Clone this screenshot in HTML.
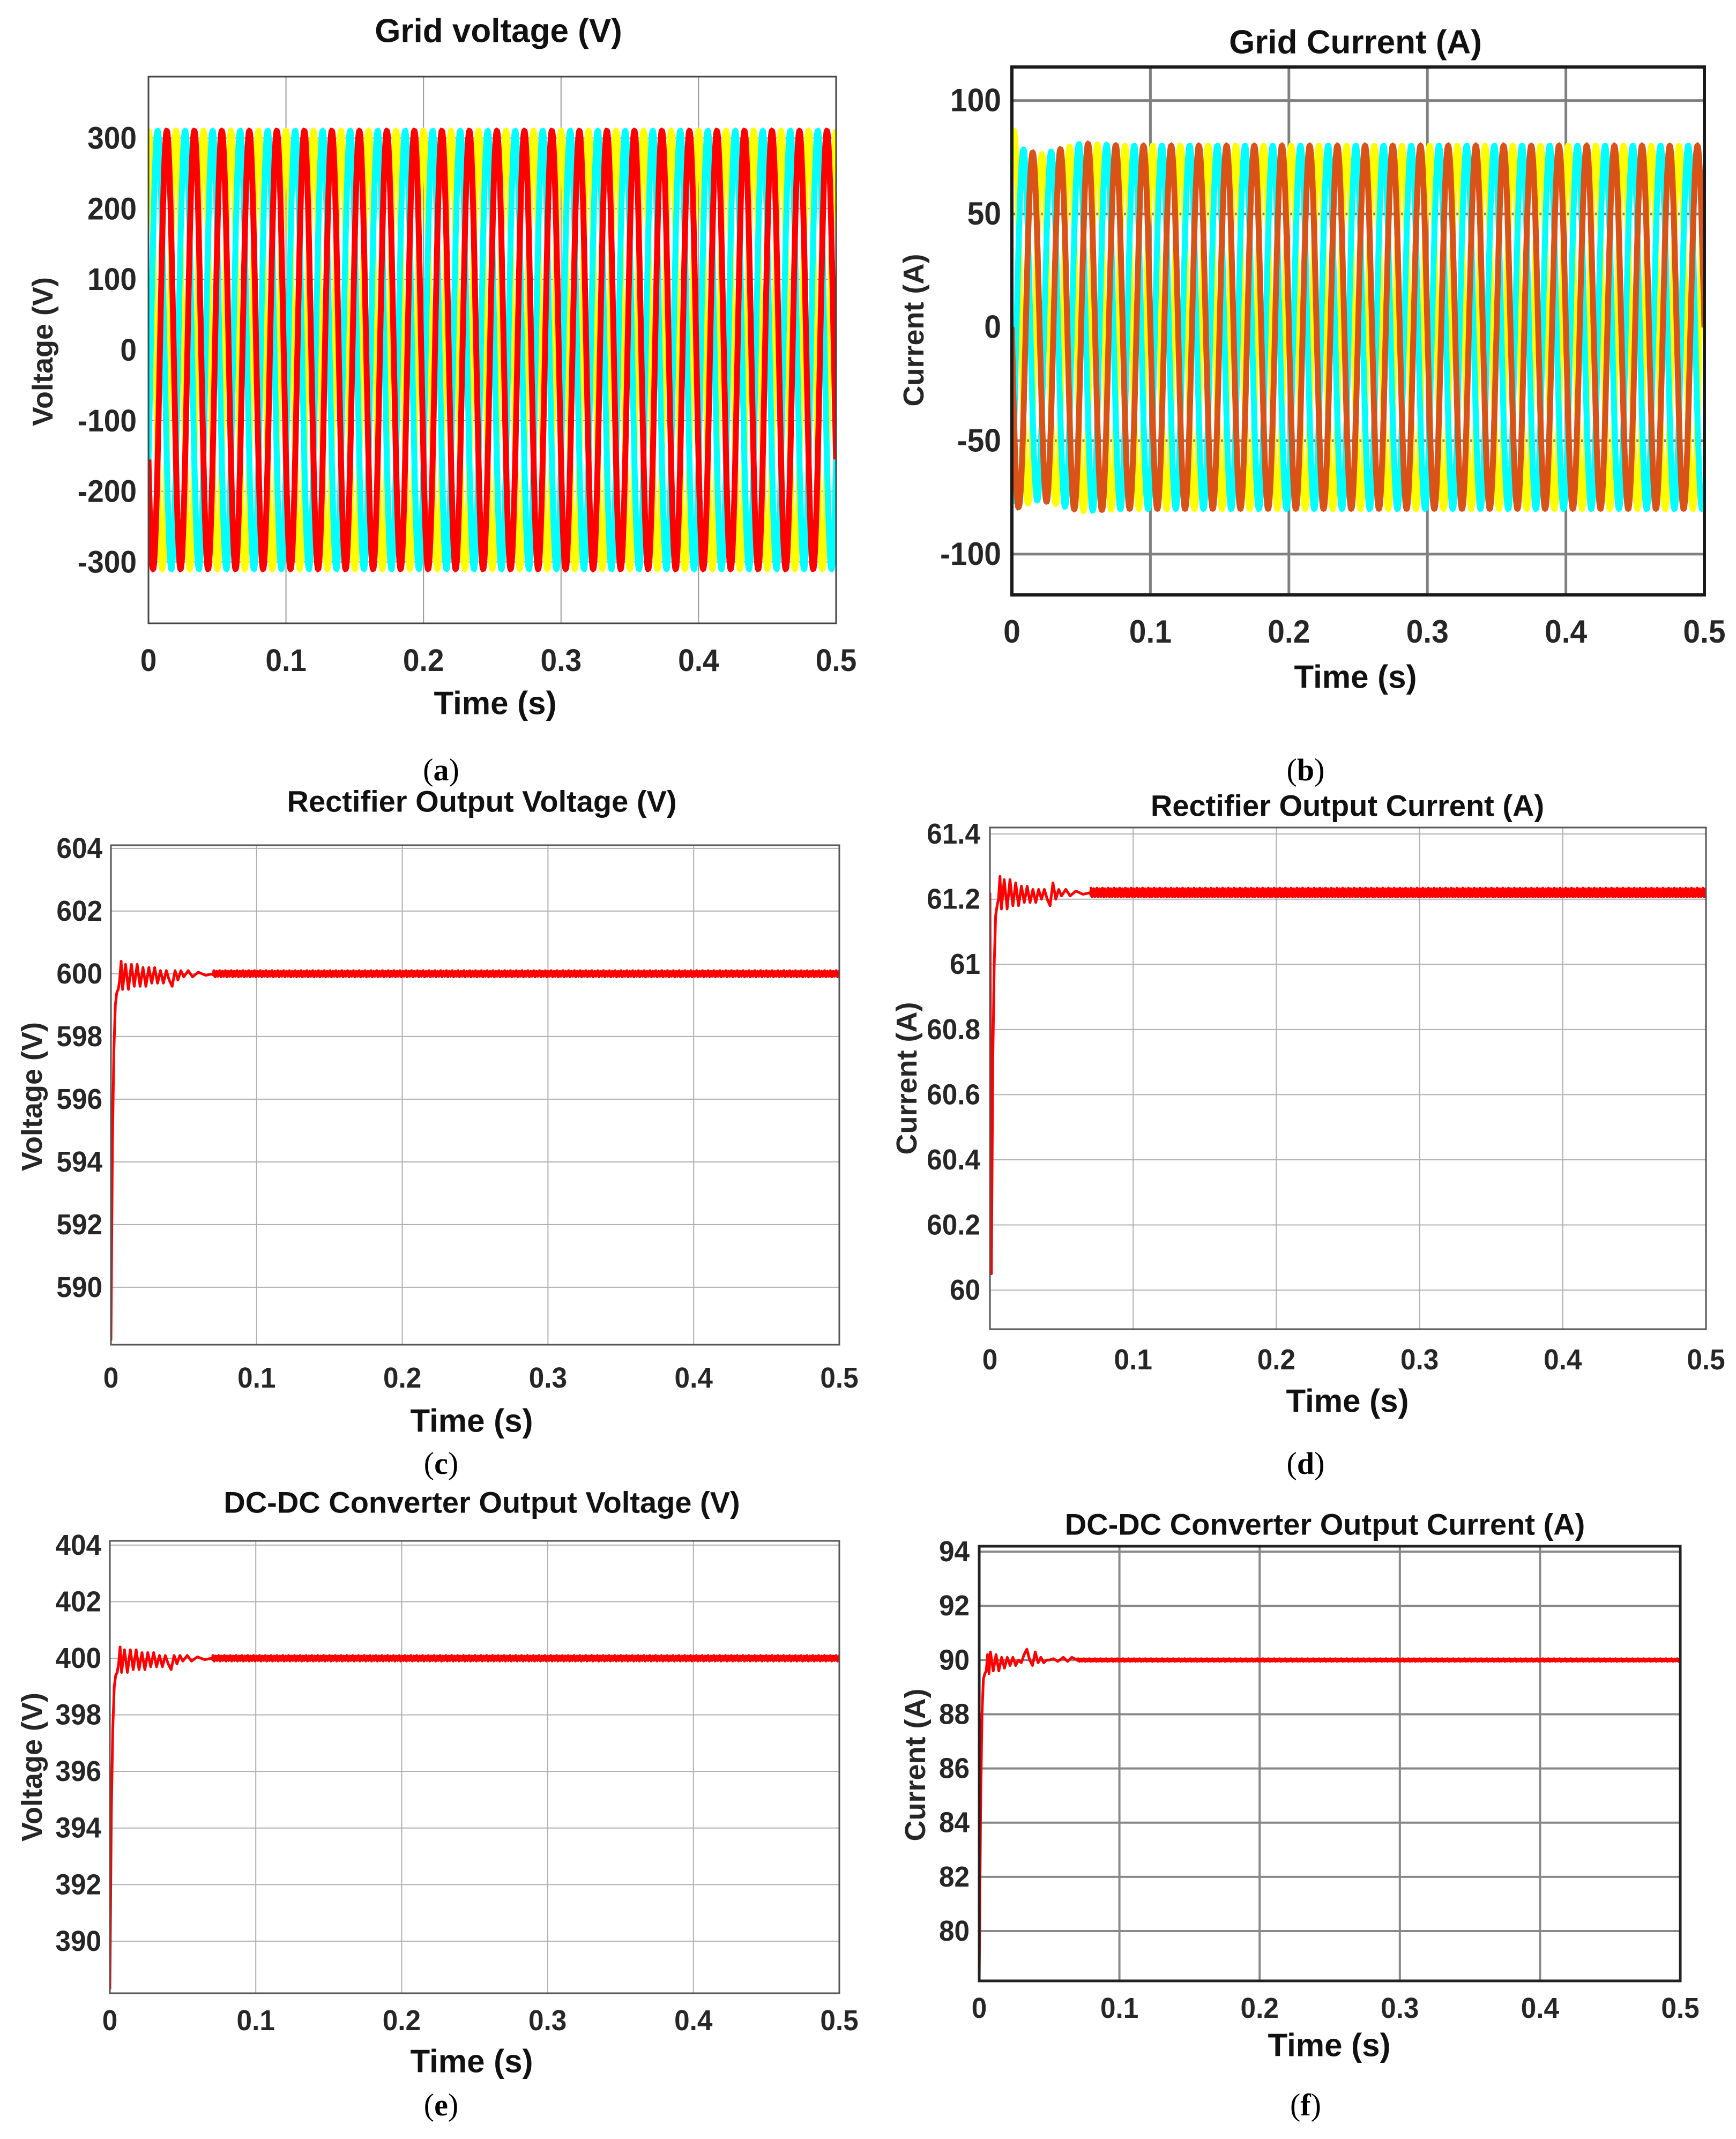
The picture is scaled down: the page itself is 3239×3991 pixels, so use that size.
<!DOCTYPE html>
<html><head><meta charset="utf-8">
<style>
html,body{margin:0;padding:0;background:#fff;}
svg{display:block;}
.tick{font-family:"Liberation Sans",sans-serif;font-weight:bold;fill:#262626;}
.ttl{font-family:"Liberation Sans",sans-serif;font-weight:bold;fill:#111;}
.ylab{font-family:"Liberation Sans",sans-serif;font-weight:bold;fill:#262626;}
.sub{font-family:"Liberation Serif",serif;fill:#000;}
</style></head>
<body>
<svg id="fig" width="3239" height="3991" viewBox="0 0 3239 3991" xmlns="http://www.w3.org/2000/svg"></svg>
<script>
// ---------- data ----------
const timeTicks = [0, 0.1, 0.2, 0.3, 0.4, 0.5];
const timeTickLabels = ["0", "0.1", "0.2", "0.3", "0.4", "0.5"];

// Grid voltage (3-phase, 50 Hz)
const gridVoltTicks = [-300, -200, -100, 0, 100, 200, 300];
const gridVoltPhases = ["yellow", "cyan", "red"];
const gridVoltAmp = [310, 310, 310];
const gridVoltPhaseDeg = [90, -30, 210];
const gridFreqHz = [50];

// Grid current (3-phase, 50 Hz) - amplitude envelope over time
const gridCurTicks = [-100, -50, 0, 50, 100];
const gridCurEnvT = [0, 0.005, 0.02, 0.05, 0.08, 0.5];
const gridCurEnvAmp = [90, 79, 76, 81, 80, 80];
const gridCurPhaseDeg = [60, -60, 180];

// Rectifier output voltage
const recVTicks = [590, 592, 594, 596, 598, 600, 602, 604];
const recVT = [0, 0.001, 0.002, 0.003, 0.004, 0.005, 0.006, 0.007, 0.008, 0.010, 0.012, 0.014, 0.016, 0.018, 0.020, 0.022, 0.024, 0.026, 0.028, 0.030, 0.032, 0.034, 0.036, 0.038, 0.040, 0.042, 0.044, 0.046, 0.048, 0.050, 0.053, 0.056, 0.060, 0.065, 0.070];
const recVV = [588.3, 594.5, 597.5, 599.0, 599.4, 599.5, 599.8, 600.4, 599.5, 600.3, 599.5, 600.3, 599.6, 600.3, 599.6, 600.2, 599.6, 600.2, 599.7, 600.2, 599.7, 600.1, 599.7, 600.1, 599.8, 599.6, 600.1, 599.8, 600.1, 599.9, 600.1, 599.9, 600.05, 599.95, 600];
const recVRipple = [0.06, -0.04, 0.1, -0.06, 0.03, -0.1, 0.05, -0.02, 0.08, -0.05, 0.02, -0.08, 0.07];

// Rectifier output current
const recITicks = [60, 60.2, 60.4, 60.6, 60.8, 61, 61.2, 61.4];
const recIT = [0, 0.001, 0.002, 0.003, 0.004, 0.005, 0.006, 0.007, 0.008, 0.010, 0.012, 0.014, 0.016, 0.018, 0.020, 0.022, 0.024, 0.026, 0.028, 0.030, 0.032, 0.034, 0.036, 0.038, 0.040, 0.042, 0.044, 0.046, 0.048, 0.050, 0.053, 0.056, 0.060, 0.065, 0.070];
const recIV = [61.22, 60.05, 60.7, 61.0, 61.15, 61.18, 61.2, 61.27, 61.17, 61.26, 61.17, 61.26, 61.18, 61.25, 61.18, 61.24, 61.19, 61.24, 61.19, 61.23, 61.19, 61.23, 61.2, 61.23, 61.2, 61.18, 61.25, 61.2, 61.23, 61.21, 61.23, 61.21, 61.225, 61.215, 61.22];
const recIRipple = [0.01, -0.006, 0.014, -0.01, 0.005, -0.013, 0.008, -0.004, 0.012, -0.008, 0.003, -0.012, 0.009];

// DC-DC converter output voltage
const dcVTicks = [390, 392, 394, 396, 398, 400, 402, 404];
const dcVT = [0, 0.001, 0.002, 0.003, 0.004, 0.005, 0.006, 0.007, 0.008, 0.010, 0.012, 0.014, 0.016, 0.018, 0.020, 0.022, 0.024, 0.026, 0.028, 0.030, 0.032, 0.034, 0.036, 0.038, 0.040, 0.042, 0.044, 0.046, 0.048, 0.050, 0.053, 0.056, 0.060, 0.065, 0.070];
const dcVV = [388.3, 394.5, 397.5, 399.0, 399.4, 399.5, 399.8, 400.4, 399.5, 400.3, 399.5, 400.3, 399.6, 400.3, 399.6, 400.2, 399.6, 400.2, 399.7, 400.2, 399.7, 400.1, 399.7, 400.1, 399.8, 399.6, 400.1, 399.8, 400.1, 399.9, 400.1, 399.9, 400.05, 399.95, 400];
const dcVRipple = [0.06, -0.04, 0.1, -0.06, 0.03, -0.1, 0.05, -0.02, 0.08, -0.05, 0.02, -0.08, 0.07];

// DC-DC converter output current
const dcITicks = [80, 82, 84, 86, 88, 90, 92, 94];
const dcIT = [0, 0.001, 0.002, 0.003, 0.004, 0.005, 0.006, 0.007, 0.008, 0.010, 0.012, 0.014, 0.016, 0.018, 0.020, 0.022, 0.024, 0.026, 0.028, 0.030, 0.032, 0.034, 0.036, 0.038, 0.040, 0.042, 0.044, 0.046, 0.048, 0.050, 0.053, 0.056, 0.060, 0.063, 0.066, 0.070];
const dcIV = [78.2, 84.5, 88.0, 89.3, 89.5, 89.6, 90.2, 89.5, 90.3, 89.6, 90.2, 89.6, 90.1, 89.7, 90.1, 89.8, 90.1, 89.8, 90.0, 89.9, 90.2, 90.4, 90.0, 89.8, 90.3, 89.9, 90.1, 89.9, 90.0, 90.0, 90.05, 89.95, 90.1, 89.95, 90.1, 90];
const dcIRipple = [0.04, -0.02, 0.05, -0.03, 0.02, -0.05, 0.03, -0.01, 0.04, -0.03, 0.01, -0.04, 0.03];

// ---------- drawing ----------
const NS = "http://www.w3.org/2000/svg";
const fig = document.getElementById("fig");
function mk(tag, attrs, parent) {
  const e = document.createElementNS(NS, tag);
  for (const k in attrs) e.setAttribute(k, attrs[k]);
  (parent || fig).appendChild(e);
  return e;
}
function txt(s, x, y, cls, size, anchor, parent, sx, rot) {
  const t = mk("text", {x: 0, y: 0, class: cls, "font-size": size, "text-anchor": anchor || "middle", "dominant-baseline": "central"}, parent);
  let tr = "translate(" + x + "," + y + ")";
  if (rot) tr += " rotate(" + rot + ")";
  tr += " scale(" + (sx || 1) + ",1)";
  t.setAttribute("transform", tr);
  t.textContent = s;
  return t;
}

const panels = [
  {id:"grid-voltage", L:277, R:1560, T:143, B:1163, ymin:-387, ymax:387, yt:gridVoltTicks, title:"Grid voltage (V)", tx:930, ty:58, tsz:62, ylab:"Voltage (V)", ylx:80, yly:656, xly:1232, timey:1312, timex:924, grid:"#9a9a9a", gw:2, frame:"#444", fw:3, tsize:58, yoff:22, sub:"a", subx:823, suby:1436},
  {id:"grid-current", L:1888, R:3180, T:125, B:1110, ymin:-118, ymax:114.8, yt:gridCurTicks, title:"Grid Current (A)", tx:2529, ty:79, tsz:62, ylab:"Current (A)", ylx:1705, yly:616, xly:1179, timey:1263, timex:2529, grid:"#808080", gw:5, frame:"#1a1a1a", fw:6, tsize:60, yoff:20, sub:"b", subx:2436, suby:1436},
  {id:"rectifier-voltage", L:207, R:1566, T:1577, B:2509, ymin:588.17, ymax:604.1, yt:recVTicks, title:"Rectifier Output Voltage (V)", tx:899, ty:1495, tsz:56, ylab:"Voltage (V)", ylx:60, yly:2046, xly:2571, timey:2651, timex:880, grid:"#b0b0b0", gw:2, frame:"#555", fw:3, tsize:54, yoff:16, sub:"c", subx:823, suby:2730},
  {id:"rectifier-current", L:1847, R:3183, T:1544, B:2480, ymin:59.88, ymax:61.42, yt:recITicks, title:"Rectifier Output Current (A)", tx:2514, ty:1503, tsz:56, ylab:"Current (A)", ylx:1692, yly:2012, xly:2537, timey:2614, timex:2514, grid:"#b0b0b0", gw:2, frame:"#555", fw:3, tsize:54, yoff:18, sub:"d", subx:2436, suby:2730},
  {id:"dcdc-voltage", L:205, R:1566, T:2875, B:3719, ymin:388.16, ymax:404.15, yt:dcVTicks, title:"DC-DC Converter Output Voltage (V)", tx:899, ty:2803, tsz:56, ylab:"Voltage (V)", ylx:60, yly:3297, xly:3770, timey:3846, timex:880, grid:"#b0b0b0", gw:2, frame:"#555", fw:3, tsize:54, yoff:16, sub:"e", subx:823, suby:3927},
  {id:"dcdc-current", L:1827, R:3135, T:2885, B:3696, ymin:78.16, ymax:94.2, yt:dcITicks, title:"DC-DC Converter Output Current (A)", tx:2472, ty:2844, tsz:56, ylab:"Current (A)", ylx:1708, yly:3293, xly:3747, timey:3816, timex:2480, grid:"#888", gw:4, frame:"#222", fw:5, tsize:54, yoff:18, sub:"f", subx:2436, suby:3927}
];

const TICKSX = 0.95;

function axes(p) {
  const xs = t => p.L + (t / 0.5) * (p.R - p.L);
  const ys = v => p.B - (v - p.ymin) / (p.ymax - p.ymin) * (p.B - p.T);
  return {xs, ys};
}

function drawFrame(p) {
  const g = mk("g", {});
  
  
  const {xs, ys} = axes(p);
  mk("rect", {x:p.L, y:p.T, width:p.R-p.L, height:p.B-p.T, fill:"#fff"}, g);
  timeTicks.forEach((t, i) => {
    const l = mk("line", {x1:xs(t), x2:xs(t), y1:p.T, y2:p.B, stroke:p.grid, "stroke-width":p.gw}, g);
    
    
    const lb = txt(timeTickLabels[i], xs(t), p.xly, "tick", p.tsize, "middle", g, TICKSX);
    
    
  });
  p.yt.forEach(v => {
    const l = mk("line", {x1:p.L, x2:p.R, y1:ys(v), y2:ys(v), stroke:p.grid, "stroke-width":p.gw}, g);
    
    
    const lb = txt(String(v), p.L - p.yoff, ys(v), "tick", p.tsize, "end", g, TICKSX);
    
    
  });
  const tt = txt(p.title, p.tx, p.ty, "ttl", p.tsz, "middle", g, 1);
  
  
  const xl = txt("Time (s)", p.timex, p.timey, "ttl", 60, "middle", g, 1);
  
  
  const yl = txt(p.ylab, p.ylx, p.yly, "ylab", 54, "middle", g, 1, -90);
  
  
  const sb = mk("text", {x:p.subx, y:p.suby, class:"sub", "font-size":58, "text-anchor":"middle", "dominant-baseline":"central"}, g);
  
  
  sb.appendChild(document.createTextNode("("));
  const bt = mk("tspan", {"font-weight":"bold"}, sb);
  bt.textContent = p.sub;
  sb.appendChild(document.createTextNode(")"));
  return g;
}
function drawBorder(p, g) {
  const b = mk("rect", {x:p.L, y:p.T, width:p.R-p.L, height:p.B-p.T, fill:"none", stroke:p.frame, "stroke-width":p.fw}, g);
  
  
}
function clipFor(p) {
  const id = "clip-" + p.id;
  const cp = mk("clipPath", {id:id});
  mk("rect", {x:p.L, y:p.T, width:p.R-p.L, height:p.B-p.T}, cp);
  return "url(#" + id + ")";
}
function interp(ts, vs, t) {
  if (t <= ts[0]) return vs[0];
  for (let i = 1; i < ts.length; i++) if (t <= ts[i]) {
    const f = (t - ts[i-1]) / (ts[i] - ts[i-1]);
    return vs[i-1] + f * (vs[i] - vs[i-1]);
  }
  return vs[vs.length - 1];
}

// Grid voltage
(function(){
  const p = panels[0], g = drawFrame(p), {xs, ys} = axes(p), clip = clipFor(p);
  const cols = {yellow:"#ffff00", cyan:"#00ffff", red:"#ff0000"};
  gridVoltPhases.forEach((ph, k) => {
    let d = "";
    for (let i = 0; i <= 5000; i++) {
      const t = 0.5 * i / 5000;
      const v = gridVoltAmp[k] * Math.sin(2*Math.PI*gridFreqHz[0]*t + gridVoltPhaseDeg[k]*Math.PI/180);
      d += (i ? "L" : "M") + xs(t).toFixed(1) + " " + ys(v).toFixed(1);
    }
    const path = mk("path", {d:d, fill:"none", stroke:cols[ph], "stroke-width":11, "clip-path":clip}, g);
    
    
  });
  drawBorder(p, g);
})();

// Grid current
(function(){
  const p = panels[1], g = drawFrame(p), {xs, ys} = axes(p), clip = clipFor(p);
  const cols = ["#ffff00", "#00ffff", "#d95319"];
  const names = ["yellow", "cyan", "orange"];
  gridCurPhaseDeg.forEach((ph, k) => {
    let d = "";
    for (let i = 0; i <= 5000; i++) {
      const t = 0.5 * i / 5000;
      const a = interp(gridCurEnvT, gridCurEnvAmp, t);
      const v = a * Math.sin(2*Math.PI*gridFreqHz[0]*t + ph*Math.PI/180);
      d += (i ? "L" : "M") + xs(t).toFixed(1) + " " + ys(v).toFixed(1);
    }
    const path = mk("path", {d:d, fill:"none", stroke:cols[k], "stroke-width":11, "clip-path":clip}, g);
    
    
  });
  drawBorder(p, g);
})();

// DC signals
function dcPanel(p, ts, vs, ripple, name) {
  const g = drawFrame(p), {xs, ys} = axes(p), clip = clipFor(p);
  let d = "";
  ts.forEach((t, i) => { d += (i ? "L" : "M") + xs(t).toFixed(1) + " " + ys(vs[i]).toFixed(1); });
  const last = ts[ts.length - 1], base = vs[vs.length - 1];
  const n = 1400;
  for (let i = 1; i <= n; i++) {
    const t = last + (0.5 - last) * i / n;
    d += "L" + xs(t).toFixed(1) + " " + ys(base + ripple[i % ripple.length]).toFixed(1);
  }
  const path = mk("path", {d:d, fill:"none", stroke:"#ff0000", "stroke-width":5, "stroke-linejoin":"round", "clip-path":clip}, g);
  
  
  drawBorder(p, g);
}
dcPanel(panels[2], recVT, recVV, recVRipple, "rectifier-voltage-line");
dcPanel(panels[3], recIT, recIV, recIRipple, "rectifier-current-line");
dcPanel(panels[4], dcVT, dcVV, dcVRipple, "dcdc-voltage-line");
dcPanel(panels[5], dcIT, dcIV, dcIRipple, "dcdc-current-line");
</script>
</body></html>
